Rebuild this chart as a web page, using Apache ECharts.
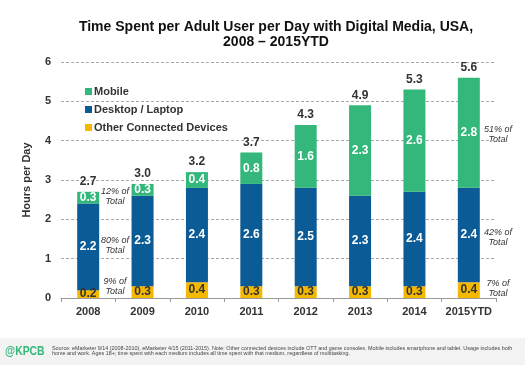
<!DOCTYPE html>
<html><head><meta charset="utf-8">
<script src="https://cdn.jsdelivr.net/npm/echarts@6/dist/echarts.min.js"></script>
<style>html,body{margin:0;padding:0;background:#fff}#c{width:525px;height:365px}</style>
</head><body><div id="c"></div>
<script>
const categories = ['2008','2009','2010','2011','2012','2013','2014','2015YTD'];
const otherDevices = [0.2,0.3,0.4,0.3,0.3,0.3,0.3,0.4];
const desktop = [2.2,2.3,2.4,2.6,2.5,2.3,2.4,2.4];
const mobile = [0.3,0.3,0.4,0.8,1.6,2.3,2.6,2.8];
const totals = [2.7,3.0,3.2,3.7,4.3,4.9,5.3,5.6];
const yTicks = [0,1,2,3,4,5,6];

const C_MOB = '#33b77b', C_DESK = '#0b5c96', C_OTH = '#f4b800';
const chart = echarts.init(document.getElementById('c'));
const fam = 'Liberation Sans, Arial, sans-serif';
const inside = (color) => ({show:true, position:'inside', color, fontWeight:'bold', fontSize:12, fontFamily:fam, formatter: p => p.value.toFixed(1)});
const note = (x,y,t) => ({type:'text', x, y, style:{text:t, fill:'#333', font:'italic 9px '+fam, align:'center', verticalAlign:'middle', lineHeight:10}});
chart.setOption({
  animation:false,
  title:{text:'Time Spent per Adult User per Day with Digital Media, USA,\n2008 – 2015YTD', left:271, top:15, textAlign:'center',
    textStyle:{fontFamily:fam, fontWeight:'bold', fontSize:14, color:'#111', lineHeight:15}},
  legend:{left:80, top:81, orient:'vertical', itemGap:7, itemWidth:7, itemHeight:7, icon:'rect',
    data:['Mobile','Desktop / Laptop','Other Connected Devices'],
    textStyle:{fontFamily:fam, fontWeight:'bold', fontSize:11, color:'#333', padding:[0,0,0,-3]}},
  grid:{left:61, top:62, width:435, height:236},
  xAxis:{type:'category', data:categories,
    axisLine:{lineStyle:{color:'#999'}}, axisTick:{show:true, lineStyle:{color:'#999'}, length:4},
    axisLabel:{interval:0, fontFamily:fam, fontWeight:'bold', fontSize:11, color:'#333', margin:8}},
  yAxis:{type:'value', min:0, max:6, interval:1, name:'Hours per Day', nameLocation:'middle', nameGap:29,
    nameTextStyle:{fontFamily:fam, fontWeight:'bold', fontSize:11, color:'#333'},
    axisLabel:{fontFamily:fam, fontWeight:'bold', fontSize:11, color:'#333', margin:10, formatter: v => yTicks.includes(v) ? String(v) : ''},
    splitLine:{lineStyle:{type:[3,2], color:'#aaa'}}},
  series:[
    {name:'Other Connected Devices', type:'bar', stack:'t', barWidth:22, data:otherDevices, itemStyle:{color:C_OTH}, label:inside('#333')},
    {name:'Desktop / Laptop', type:'bar', stack:'t', data:desktop, itemStyle:{color:C_DESK}, label:inside('#fff')},
    {name:'Mobile', type:'bar', stack:'t', data:mobile, itemStyle:{color:C_MOB}, label:inside('#fff')},
    {name:'Total', type:'bar', stack:'t', data:totals.map(t=>({value:0, total:t})), itemStyle:{color:'transparent'},
      label:{show:true, position:'top', distance:4, color:'#333', fontWeight:'bold', fontSize:12, fontFamily:fam, formatter: p => totals[p.dataIndex].toFixed(1)}}
  ],
  graphic:[
    note(115,196,'12% of\nTotal'), note(115,245,'80% of\nTotal'), note(115,286,'9% of\nTotal'),
    note(498,134,'51% of\nTotal'), note(498,237,'42% of\nTotal'), note(498,288,'7% of\nTotal'),
    {type:'rect', shape:{x:0,y:338,width:525,height:27}, style:{fill:'#f3f3f3'}, z:-1},
    {type:'text', x:5, y:351, scaleX:0.8, style:{text:'@KPCB', fill:'#33b77b', font:'bold 13px '+fam, verticalAlign:'middle'}},
    {type:'text', x:52, y:351, style:{text:'Source: eMarketer 9/14 (2008-2010), eMarketer 4/15 (2011-2015). Note: Other connected devices include OTT and game consoles. Mobile includes smartphone and tablet. Usage includes both\nhome and work. Ages 18+; time spent with each medium includes all time spent with that medium, regardless of multitasking.', fill:'#444', font:'5.4px '+fam, verticalAlign:'middle', lineHeight:5.5}}
  ]
});
</script></body></html>
